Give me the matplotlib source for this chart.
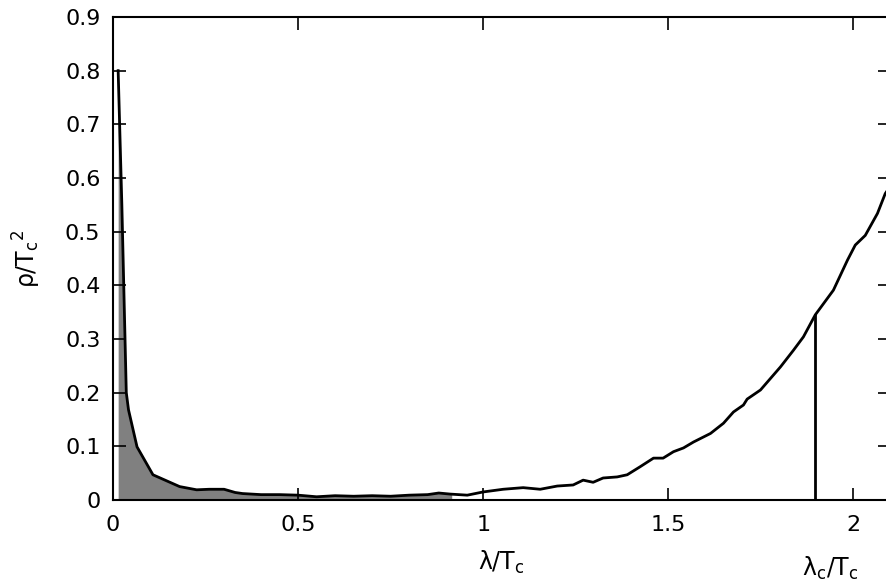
import numpy as np
import matplotlib
matplotlib.use("Agg")
import matplotlib.pyplot as plt

# energy density curve
lam = [0.014, 0.024, 0.036, 0.042, 0.065, 0.108, 0.18, 0.226, 0.26, 0.30, 0.33, 0.35, 0.40,
       0.45, 0.50, 0.55, 0.60, 0.65, 0.70, 0.75, 0.80, 0.85, 0.88, 0.911, 0.957,
       1.0, 1.054, 1.108, 1.154, 1.2, 1.243, 1.27, 1.297, 1.324, 1.362, 1.389,
       1.424, 1.46, 1.486, 1.514, 1.541, 1.568, 1.614, 1.649, 1.676, 1.703,
       1.713, 1.749, 1.803, 1.838, 1.865, 1.897, 1.946, 1.984, 2.005, 2.032,
       2.065, 2.086, 2.1]
rho = [0.80, 0.55, 0.20, 0.168, 0.099, 0.047, 0.025, 0.019, 0.020, 0.020, 0.014, 0.012, 0.010,
       0.010, 0.009, 0.006, 0.008, 0.007, 0.008, 0.007, 0.009, 0.010, 0.013, 0.011, 0.009,
       0.015, 0.020, 0.023, 0.020, 0.026, 0.028, 0.037, 0.033, 0.041, 0.043, 0.047,
       0.062, 0.078, 0.078, 0.090, 0.097, 0.108, 0.124, 0.143, 0.164, 0.177,
       0.188, 0.205, 0.248, 0.279, 0.304, 0.345, 0.391, 0.447, 0.475, 0.493,
       0.534, 0.571, 0.585]
lam_fill_end = 0.915
lam_c = 1.897
xticks = [0, 0.5, 1, 1.5, 2]
yticks = [0, 0.1, 0.2, 0.3, 0.4, 0.5, 0.6, 0.7, 0.8, 0.9]

lam = np.array(lam)
rho = np.array(rho)

fig = plt.figure(figsize=(8.86, 5.82), dpi=100)
ax = fig.add_axes([0.1275, 0.1409, 0.8775, 0.8299])

mask = lam <= lam_fill_end
fx = np.append(lam[mask], lam_fill_end)
fy = np.append(rho[mask], np.interp(lam_fill_end, lam, rho))
ax.fill_between(fx, 0, fy, color='#808080', lw=0)
ax.plot(lam, rho, color='black', lw=2)
ax.plot([lam_c, lam_c], [0, np.interp(lam_c, lam, rho)], color='black', lw=2)

ax.set_xlim(0, 2.1)
ax.set_ylim(0, 0.9)
ax.set_xticks(xticks)
ax.set_xticklabels(['0', '0.5', '1', '1.5', '2'])
ax.set_yticks(yticks)
ax.set_yticklabels(['0', '0.1', '0.2', '0.3', '0.4', '0.5', '0.6', '0.7', '0.8', '0.9'])
ax.tick_params(direction='in', length=9, width=1.2, top=True, right=True,
               labelsize=16)
ax.tick_params(axis='x', pad=11)
ax.tick_params(axis='y', pad=9)
for s in ax.spines.values():
    s.set_linewidth(1.5)

ax.set_xlabel(r'λ/T$_\mathrm{c}$', fontsize=17, labelpad=10)
ax.set_ylabel(r'ρ/T$_\mathrm{c}$$^2$', fontsize=17, labelpad=16)
ax.text(1.938, -0.128, r'λ$_\mathrm{c}$/T$_\mathrm{c}$', fontsize=17,
        ha='center', va='center')

fig.savefig('out.png', dpi=100)
